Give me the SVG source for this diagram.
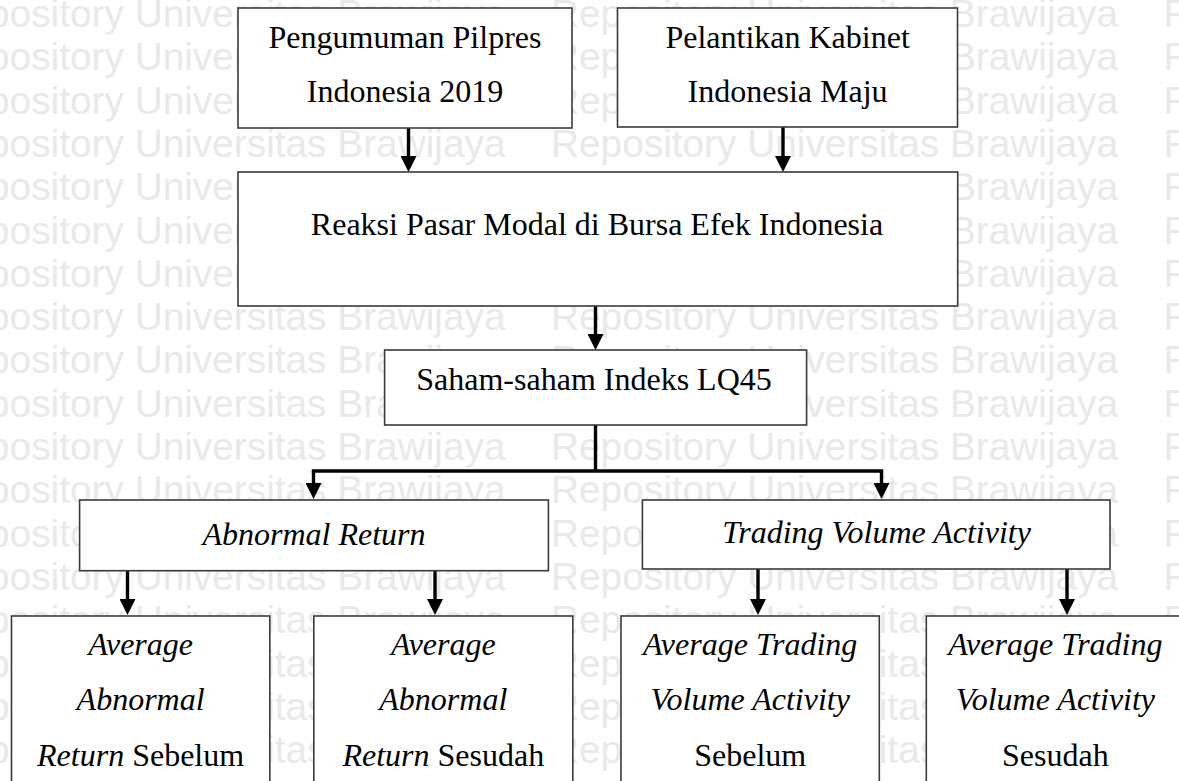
<svg xmlns="http://www.w3.org/2000/svg" width="1179" height="781" viewBox="0 0 1179 781">
<style>
.wm{fill:#e9e9e9;font-family:"Liberation Sans",Arial,sans-serif;font-size:38.8px}
.box{fill:#fff;stroke:#3a3a3a;stroke-width:1.6}
.t{font-family:"Liberation Serif","Times New Roman",serif;font-size:32px;fill:#000;text-anchor:middle}
.i{font-style:italic}
.con{stroke:#000;stroke-width:3.4;fill:none}
</style>
<defs>
<marker id="ah" viewBox="0 0 16 16" refX="2" refY="8" markerWidth="16" markerHeight="16" markerUnits="userSpaceOnUse" orient="auto">
<path d="M0,0 L16,8 L0,16 z" fill="#000"/>
</marker>
</defs>
<rect width="1179" height="781" fill="#fff"/>
<g id="watermark" class="wm">
<text y="27"><tspan x="-61.6">Repository Universitas Brawijaya</tspan><tspan x="551">Repository Universitas Brawijaya</tspan><tspan x="1163.6">Repository Universitas Brawijaya</tspan></text>
<text y="70.3"><tspan x="-61.6">Repository Universitas Brawijaya</tspan><tspan x="551">Repository Universitas Brawijaya</tspan><tspan x="1163.6">Repository Universitas Brawijaya</tspan></text>
<text y="113.6"><tspan x="-61.6">Repository Universitas Brawijaya</tspan><tspan x="551">Repository Universitas Brawijaya</tspan><tspan x="1163.6">Repository Universitas Brawijaya</tspan></text>
<text y="156.9"><tspan x="-61.6">Repository Universitas Brawijaya</tspan><tspan x="551">Repository Universitas Brawijaya</tspan><tspan x="1163.6">Repository Universitas Brawijaya</tspan></text>
<text y="200.2"><tspan x="-61.6">Repository Universitas Brawijaya</tspan><tspan x="551">Repository Universitas Brawijaya</tspan><tspan x="1163.6">Repository Universitas Brawijaya</tspan></text>
<text y="243.5"><tspan x="-61.6">Repository Universitas Brawijaya</tspan><tspan x="551">Repository Universitas Brawijaya</tspan><tspan x="1163.6">Repository Universitas Brawijaya</tspan></text>
<text y="286.8"><tspan x="-61.6">Repository Universitas Brawijaya</tspan><tspan x="551">Repository Universitas Brawijaya</tspan><tspan x="1163.6">Repository Universitas Brawijaya</tspan></text>
<text y="330.1"><tspan x="-61.6">Repository Universitas Brawijaya</tspan><tspan x="551">Repository Universitas Brawijaya</tspan><tspan x="1163.6">Repository Universitas Brawijaya</tspan></text>
<text y="373.4"><tspan x="-61.6">Repository Universitas Brawijaya</tspan><tspan x="551">Repository Universitas Brawijaya</tspan><tspan x="1163.6">Repository Universitas Brawijaya</tspan></text>
<text y="416.7"><tspan x="-61.6">Repository Universitas Brawijaya</tspan><tspan x="551">Repository Universitas Brawijaya</tspan><tspan x="1163.6">Repository Universitas Brawijaya</tspan></text>
<text y="460"><tspan x="-61.6">Repository Universitas Brawijaya</tspan><tspan x="551">Repository Universitas Brawijaya</tspan><tspan x="1163.6">Repository Universitas Brawijaya</tspan></text>
<text y="503.3"><tspan x="-61.6">Repository Universitas Brawijaya</tspan><tspan x="551">Repository Universitas Brawijaya</tspan><tspan x="1163.6">Repository Universitas Brawijaya</tspan></text>
<text y="546.6"><tspan x="-61.6">Repository Universitas Brawijaya</tspan><tspan x="551">Repository Universitas Brawijaya</tspan><tspan x="1163.6">Repository Universitas Brawijaya</tspan></text>
<text y="589.9"><tspan x="-61.6">Repository Universitas Brawijaya</tspan><tspan x="551">Repository Universitas Brawijaya</tspan><tspan x="1163.6">Repository Universitas Brawijaya</tspan></text>
<text y="633.2"><tspan x="-61.6">Repository Universitas Brawijaya</tspan><tspan x="551">Repository Universitas Brawijaya</tspan><tspan x="1163.6">Repository Universitas Brawijaya</tspan></text>
<text y="676.5"><tspan x="-61.6">Repository Universitas Brawijaya</tspan><tspan x="551">Repository Universitas Brawijaya</tspan><tspan x="1163.6">Repository Universitas Brawijaya</tspan></text>
<text y="719.8"><tspan x="-61.6">Repository Universitas Brawijaya</tspan><tspan x="551">Repository Universitas Brawijaya</tspan><tspan x="1163.6">Repository Universitas Brawijaya</tspan></text>
<text y="763.1"><tspan x="-61.6">Repository Universitas Brawijaya</tspan><tspan x="551">Repository Universitas Brawijaya</tspan><tspan x="1163.6">Repository Universitas Brawijaya</tspan></text>
</g>
<g id="connectors" class="con">
<line x1="408.5" y1="127" x2="408.5" y2="158" marker-end="url(#ah)"/>
<line x1="783" y1="127" x2="783" y2="158" marker-end="url(#ah)"/>
<line x1="595.5" y1="306" x2="595.5" y2="336" marker-end="url(#ah)"/>
<line x1="595.5" y1="425" x2="595.5" y2="471"/>
<line x1="311.8" y1="471" x2="883.2" y2="471"/>
<line x1="313.5" y1="471" x2="313.5" y2="485" marker-end="url(#ah)"/>
<line x1="881.5" y1="471" x2="881.5" y2="485" marker-end="url(#ah)"/>
<line x1="127.5" y1="571" x2="127.5" y2="601" marker-end="url(#ah)"/>
<line x1="435" y1="571" x2="435" y2="601" marker-end="url(#ah)"/>
<line x1="758" y1="569" x2="758" y2="601" marker-end="url(#ah)"/>
<line x1="1067" y1="569" x2="1067" y2="601" marker-end="url(#ah)"/>
</g>
<g id="pilpres">
<rect class="box" x="238" y="8" width="334" height="120"/>
<text class="t" x="405" y="48">Pengumuman Pilpres</text>
<text class="t" x="405" y="102">Indonesia 2019</text>
</g>
<g id="kabinet">
<rect class="box" x="617.5" y="8" width="340" height="119"/>
<text class="t" x="787.6" y="48">Pelantikan Kabinet</text>
<text class="t" x="787.6" y="102">Indonesia Maju</text>
</g>
<g id="reaksi">
<rect class="box" x="238" y="172" width="719.7" height="134"/>
<text class="t" x="597" y="235">Reaksi Pasar Modal di Bursa Efek Indonesia</text>
</g>
<g id="lq45">
<rect class="box" x="384.6" y="350" width="422" height="75"/>
<text class="t" x="594" y="390">Saham-saham Indeks LQ45</text>
</g>
<g id="abnormal-return">
<rect class="box" x="79.6" y="500" width="468.8" height="70.7"/>
<text class="t i" x="314" y="545">Abnormal Return</text>
</g>
<g id="tva">
<rect class="box" x="642.4" y="500" width="467.6" height="69"/>
<text class="t i" x="876.5" y="543">Trading Volume Activity</text>
</g>
<g id="aar-sebelum">
<rect class="box" x="11.5" y="616" width="258.3" height="200"/>
<text class="t i" x="140.6" y="655">Average</text>
<text class="t i" x="140.6" y="710">Abnormal</text>
<text class="t" x="140.6" y="766"><tspan class="i">Return</tspan> Sebelum</text>
</g>
<g id="aar-sesudah">
<rect class="box" x="313.8" y="616" width="259" height="200"/>
<text class="t i" x="443.3" y="655">Average</text>
<text class="t i" x="443.3" y="710">Abnormal</text>
<text class="t" x="443.3" y="766"><tspan class="i">Return</tspan> Sesudah</text>
</g>
<g id="atva-sebelum">
<rect class="box" x="621" y="616" width="258.3" height="200"/>
<text class="t i" x="750.2" y="655">Average Trading</text>
<text class="t i" x="750.2" y="710">Volume Activity</text>
<text class="t" x="750.2" y="766">Sebelum</text>
</g>
<g id="atva-sesudah">
<rect class="box" x="926.3" y="616" width="258.3" height="200"/>
<text class="t i" x="1055.4" y="655">Average Trading</text>
<text class="t i" x="1055.4" y="710">Volume Activity</text>
<text class="t" x="1055.4" y="766">Sesudah</text>
</g>
</svg>
